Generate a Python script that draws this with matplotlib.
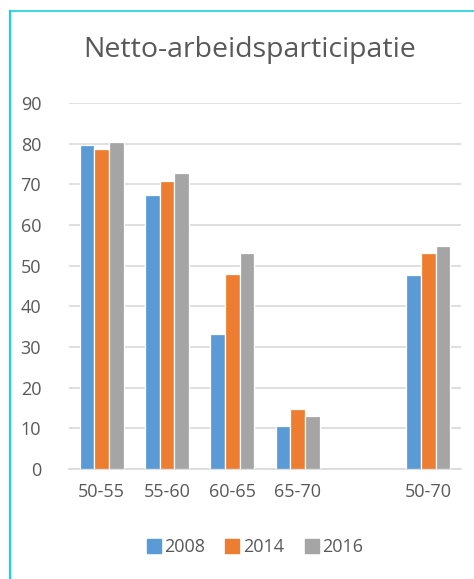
import numpy as np
import matplotlib.pyplot as plt
from matplotlib.lines import Line2D

categories = ["50-55", "55-60", "60-65", "65-70", "", "50-70"]
years = ["2008", "2014", "2016"]
v2008 = [79.6, 67.3, 33.3, 10.5, np.nan, 47.7]
v2014 = [78.7, 70.8, 47.9, 14.8, np.nan, 53.1]
v2016 = [80.4, 72.9, 53.0, 13.1, np.nan, 54.9]
colors = ["#5B9BD5", "#ED7D31", "#A5A5A5"]
text_col = "#595959"

plt.rcParams['font.family'] = ['Open Sans', 'DejaVu Sans']

fig = plt.figure(figsize=(4.74, 5.79), dpi=100)
ax = fig.add_axes([69/474, 1 - 469/579, 392/474, 366/579])

x = np.arange(len(categories))
w = 0.225
for i, (vals, c) in enumerate(zip([v2008, v2014, v2016], colors)):
    ax.bar(x + (i - 1) * w, vals, width=w, color=c, edgecolor="white",
           linewidth=0.9, label=years[i], zorder=3)

ax.set_xlim(-0.5, len(categories) - 0.5)
ax.set_ylim(0, 90)
ax.set_yticks(range(0, 91, 10))
ax.set_xticks(x)
ax.set_xticklabels(categories)
ax.grid(axis="y", color="#D9D9D9", linewidth=1.2, zorder=0)
for s in ["top", "right", "left"]:
    ax.spines[s].set_visible(False)
ax.spines["bottom"].set_color("#D9D9D9")
ax.spines["bottom"].set_linewidth(1.2)
ax.tick_params(axis="both", length=0, colors=text_col, labelsize=13)
ax.tick_params(axis="y", pad=20)
ax.tick_params(axis="x", pad=10)

fig.text(250/474, 1 - 50/579, "Netto-arbeidsparticipatie", ha="center",
         va="center", fontsize=20.5, color=text_col)

handles = [Line2D([], [], marker="s", linestyle="", markersize=9.5,
                  markerfacecolor=c, markeredgecolor=c) for c in colors]
fig.legend(handles, years, loc="center", bbox_to_anchor=(254/474, 1 - 547/579),
           ncol=3, frameon=False, fontsize=13, labelcolor=text_col,
           handletextpad=0.1, columnspacing=1.0, handlelength=1.0)

fig.add_artist(Line2D([10/474, 10/474], [0, 1 - 10.5/579], color="#1FCFDE",
                      linewidth=1.6, transform=fig.transFigure))
fig.add_artist(Line2D([10/474, 1], [1 - 10.5/579, 1 - 10.5/579], color="#1FCFDE",
                      linewidth=1.2, transform=fig.transFigure))

fig.savefig("out.png", dpi=100)
